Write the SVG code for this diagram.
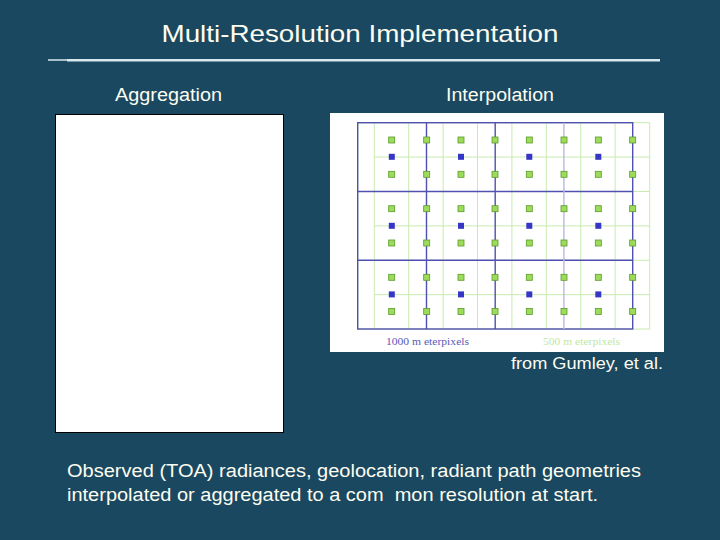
<svg xmlns="http://www.w3.org/2000/svg" width="720" height="540" viewBox="0 0 720 540">
<style>
.t{font-family:"Liberation Sans",Arial,sans-serif;fill:#fdfdf0}
.g{fill:#9ddc5a;stroke:#5a9a2a;stroke-width:0.8}
.b{fill:#3535c8}
.gl{stroke:#c8eab0;stroke-width:1;fill:none}
.bl{stroke:#5050b0;stroke-width:1.4;fill:none}
</style>
<rect width="720" height="540" fill="#1a4861"/>
<text class="t" x="360" y="42" font-size="24" text-anchor="middle" textLength="397" lengthAdjust="spacingAndGlyphs">Multi-Resolution Implementation</text>
<line x1="48" y1="60" x2="67" y2="60" stroke="#d8e8ef" stroke-width="1.5"/>
<line x1="67" y1="60.3" x2="660" y2="60.3" stroke="#d8e8ef" stroke-width="2.5"/>
<text class="t" x="115" y="101" font-size="18" textLength="107" lengthAdjust="spacingAndGlyphs">Aggregation</text>
<text class="t" x="446" y="101" font-size="18" textLength="108" lengthAdjust="spacingAndGlyphs">Interpolation</text>
<g id="aggregation-box">
<rect x="55.5" y="114.5" width="228" height="318" fill="#ffffff" stroke="#000000" stroke-width="1"/>
</g>
<g id="interpolation-figure">
<rect x="330" y="113" width="334" height="239" fill="#ffffff"/>
<g class="gl">
<rect x="357.7" y="122.7" width="292" height="206.3"/>
<path d="M374.3 122.7V329M408.7 122.7V329M443.1 122.7V329M477.5 122.7V329M511.9 122.7V329M546.3 122.7V329M580.7 122.7V329M615.1 122.7V329"/>
<path d="M374.3 157H650M374.3 191.5H650M374.3 225.9H650M374.3 260.3H650M374.3 294.7H650"/>
</g>
<g class="bl">
<rect x="357.7" y="122.7" width="275" height="206.3"/>
<path d="M426.5 122.7V329M495.2 122.7V329M357.7 191.5H632.7M357.7 260.3H632.7"/>
<path d="M563.9 122.7V329" stroke="#b8b8e0"/>
</g>
<g id="green-squares">
<g transform="translate(0,140)">
<rect class="g" x="388.7" y="-3" width="6" height="6"/><rect class="g" x="423.7" y="-3" width="6" height="6"/><rect class="g" x="458" y="-3" width="6" height="6"/><rect class="g" x="492" y="-3" width="6" height="6"/><rect class="g" x="526.3" y="-3" width="6" height="6"/><rect class="g" x="561" y="-3" width="6" height="6"/><rect class="g" x="595.3" y="-3" width="6" height="6"/><rect class="g" x="629.7" y="-3" width="6" height="6"/>
</g>
<g transform="translate(0,174.3)">
<rect class="g" x="388.7" y="-3" width="6" height="6"/><rect class="g" x="423.7" y="-3" width="6" height="6"/><rect class="g" x="458" y="-3" width="6" height="6"/><rect class="g" x="492" y="-3" width="6" height="6"/><rect class="g" x="526.3" y="-3" width="6" height="6"/><rect class="g" x="561" y="-3" width="6" height="6"/><rect class="g" x="595.3" y="-3" width="6" height="6"/><rect class="g" x="629.7" y="-3" width="6" height="6"/>
</g>
<g transform="translate(0,208.7)">
<rect class="g" x="388.7" y="-3" width="6" height="6"/><rect class="g" x="423.7" y="-3" width="6" height="6"/><rect class="g" x="458" y="-3" width="6" height="6"/><rect class="g" x="492" y="-3" width="6" height="6"/><rect class="g" x="526.3" y="-3" width="6" height="6"/><rect class="g" x="561" y="-3" width="6" height="6"/><rect class="g" x="595.3" y="-3" width="6" height="6"/><rect class="g" x="629.7" y="-3" width="6" height="6"/>
</g>
<g transform="translate(0,243)">
<rect class="g" x="388.7" y="-3" width="6" height="6"/><rect class="g" x="423.7" y="-3" width="6" height="6"/><rect class="g" x="458" y="-3" width="6" height="6"/><rect class="g" x="492" y="-3" width="6" height="6"/><rect class="g" x="526.3" y="-3" width="6" height="6"/><rect class="g" x="561" y="-3" width="6" height="6"/><rect class="g" x="595.3" y="-3" width="6" height="6"/><rect class="g" x="629.7" y="-3" width="6" height="6"/>
</g>
<g transform="translate(0,277.3)">
<rect class="g" x="388.7" y="-3" width="6" height="6"/><rect class="g" x="423.7" y="-3" width="6" height="6"/><rect class="g" x="458" y="-3" width="6" height="6"/><rect class="g" x="492" y="-3" width="6" height="6"/><rect class="g" x="526.3" y="-3" width="6" height="6"/><rect class="g" x="561" y="-3" width="6" height="6"/><rect class="g" x="595.3" y="-3" width="6" height="6"/><rect class="g" x="629.7" y="-3" width="6" height="6"/>
</g>
<g transform="translate(0,311.5)">
<rect class="g" x="388.7" y="-3" width="6" height="6"/><rect class="g" x="423.7" y="-3" width="6" height="6"/><rect class="g" x="458" y="-3" width="6" height="6"/><rect class="g" x="492" y="-3" width="6" height="6"/><rect class="g" x="526.3" y="-3" width="6" height="6"/><rect class="g" x="561" y="-3" width="6" height="6"/><rect class="g" x="595.3" y="-3" width="6" height="6"/><rect class="g" x="629.7" y="-3" width="6" height="6"/>
</g>
</g>
<g id="blue-squares">
<rect class="b" x="388.8" y="153.8" width="6" height="6"/><rect class="b" x="458" y="153.8" width="6" height="6"/><rect class="b" x="526.3" y="153.8" width="6" height="6"/><rect class="b" x="595.3" y="153.8" width="6" height="6"/>
<rect class="b" x="388.8" y="222.8" width="6" height="6"/><rect class="b" x="458" y="222.8" width="6" height="6"/><rect class="b" x="526.3" y="222.8" width="6" height="6"/><rect class="b" x="595.3" y="222.8" width="6" height="6"/>
<rect class="b" x="388.8" y="291.4" width="6" height="6"/><rect class="b" x="458" y="291.4" width="6" height="6"/><rect class="b" x="526.3" y="291.4" width="6" height="6"/><rect class="b" x="595.3" y="291.4" width="6" height="6"/>
</g>
<text x="386" y="345" font-family="Liberation Serif,serif" font-size="10" fill="#5a5ab8" textLength="83" lengthAdjust="spacingAndGlyphs">1000 m eterpixels</text>
<text x="543" y="345" font-family="Liberation Serif,serif" font-size="10" fill="#bfe8a0" textLength="77" lengthAdjust="spacingAndGlyphs">500 m eterpixels</text>
</g>
<text class="t" x="511" y="369" font-size="16" textLength="152" lengthAdjust="spacingAndGlyphs">from Gumley, et al.</text>
<text class="t" x="67" y="477" font-size="18" textLength="574" lengthAdjust="spacingAndGlyphs">Observed (TOA) radiances, geolocation, radiant path geometries</text>
<text class="t" x="67" y="501" font-size="18" textLength="531" lengthAdjust="spacingAndGlyphs" xml:space="preserve">interpolated or aggregated to a com  mon resolution at start.</text>
</svg>
